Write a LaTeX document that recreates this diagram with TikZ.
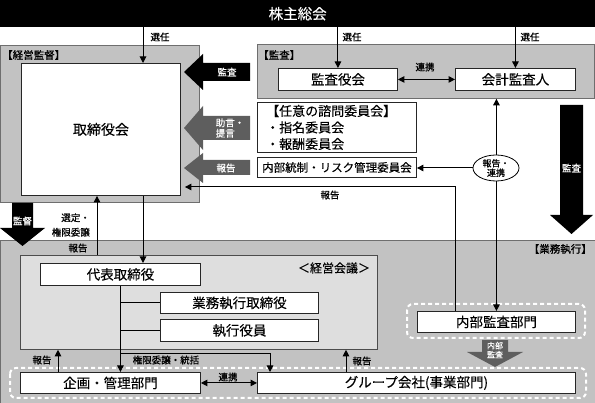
\documentclass[tikz,border=0pt]{standalone}
\usepackage{fontspec}
\setmainfont[FakeBold=0.25]{Noto Sans CJK JP}
\newfontfamily\lblfont[FakeBold=0.6]{Noto Sans CJK JP}
\usetikzlibrary{arrows.meta,shapes.geometric}
\definecolor{panelgray}{HTML}{C2C2C2}
\definecolor{innergray}{HTML}{DEDEDE}
\definecolor{arrowgray}{HTML}{5E5E5E}
\definecolor{edgegray}{HTML}{6E6E6E}
\begin{document}
\begin{tikzpicture}[x=1pt,y=-1pt,
  panel/.style={draw=edgegray, fill=panelgray, line width=0.8pt, inner sep=0pt, anchor=north west},
  box/.style={draw=black!85, fill=white, line width=0.9pt, inner sep=0pt, anchor=north west, font=\fontsize{13.5}{16}\selectfont},
  lbl/.style={font=\lblfont\fontsize{9.5}{11}\selectfont, inner sep=0pt},
  hdr/.style={font=\lblfont\fontsize{10.5}{12}\selectfont, inner sep=0pt},
  conn/.style={line width=1pt, -{Triangle[length=6.5pt,width=6.5pt]}},
  both/.style={line width=1pt, {Triangle[length=6.5pt,width=6.5pt]}-{Triangle[length=6.5pt,width=6.5pt]}},
  plain/.style={line width=1pt},
  dashbox/.style={draw=white, line width=2pt, dash pattern=on 4pt off 3pt, rounded corners=6pt},
  wtxt/.style={text=white, font=\lblfont\fontsize{9.5}{10.5}\selectfont, inner sep=0pt, align=center}
]
\useasboundingbox (0,0) rectangle (595,403);

% top bar
\node[anchor=north west, fill=black, minimum width=595pt, minimum height=27pt, inner sep=0pt,
      text=white, font=\fontsize{14.5}{16}\selectfont] (kabu) at (0,0) {株主総会};

% panels
\node[panel, minimum width=199pt, minimum height=157pt] (keieipanel) at (0,45) {};
\node[hdr, anchor=west] (hkeiei) at (2,55) {【経営監督】};
\node[panel, minimum width=337pt, minimum height=54pt] (kansapanel) at (257,44) {};
\node[hdr, anchor=west] (hkansa) at (258,55) {【監査】};
\node[panel, minimum width=595pt, minimum height=163pt] (gyomupanel) at (0,240) {};
\node[hdr, anchor=east] (hgyomu) at (592,249) {【業務執行】};
\node[panel, fill=innergray, draw=black!70, minimum width=357pt, minimum height=94pt] (kaigipanel) at (20,255) {};
\node[font=\fontsize{12}{14}\selectfont, inner sep=0pt] (hkaigi) at (334,268) {＜経営会議＞};

% boxes
\node[box, minimum width=159pt, minimum height=132pt, font=\fontsize{14}{16}\selectfont] (torishimari) at (21,63) {取締役会};
\node[box, minimum width=119pt, minimum height=22pt] (kansayaku) at (278,68) {監査役会};
\node[box, minimum width=120pt, minimum height=22pt] (kaikei) at (455,68) {会計監査人};
\node[box, minimum width=159pt, minimum height=50pt] (nini) at (257,102) {};
\node[anchor=west, align=left, font=\fontsize{13}{16.5}\selectfont, inner sep=0pt] (ninitext) at ([xshift=9pt]nini.west) {【任意の諮問委員会】\\・指名委員会\\・報酬委員会};
\node[box, minimum width=159pt, minimum height=20pt, font=\fontsize{11.5}{13}\selectfont] (naibutousei) at (257,157) {内部統制・リスク管理委員会};

\node[box, minimum width=160pt, minimum height=22pt] (daihyo) at (40,263) {代表取締役};
\node[box, minimum width=158pt, minimum height=21pt] (gyomu) at (160,292) {業務執行取締役};
\node[box, minimum width=158pt, minimum height=22pt] (shikko) at (160,319) {執行役員};

\draw[dashbox] (10,368) rectangle (586,398);
\draw[dashbox] (407,304) rectangle (585,338);
\node[box, minimum width=180pt, minimum height=21pt] (kikaku) at (20,372) {企画・管理部門};
\node[box, minimum width=318pt, minimum height=21pt] (group) at (257,372) {グループ会社(事業部門)};
\node[box, minimum width=158pt, minimum height=21pt] (naibukansa) at (417,311) {内部監査部門};

% block arrows
\fill[black] (184,72) -- (203,54) -- (203,63) -- (250,63) -- (250,81) -- (203,81) -- (203,90) -- cycle;
\node[wtxt] (tkansa1) at (227,72) {監査};
\fill[arrowgray] (184,128) -- (203,106) -- (203,116) -- (250,116) -- (250,140) -- (203,140) -- (203,150) -- cycle;
\node[wtxt, align=left] (tjogen) at (230,128) {助言・\\提言};
\fill[arrowgray] (184,168) -- (203,153) -- (203,160) -- (250,160) -- (250,175) -- (203,175) -- (203,183) -- cycle;
\node[wtxt] (thokoku1) at (226,168) {報告};
\fill[black] (12,203) -- (33,203) -- (33,228) -- (45,228) -- (22.5,246) -- (0,228) -- (12,228) -- cycle;
\node[wtxt] (tkantoku) at (22.5,221) {監督};
\fill[black] (560,105) -- (583,105) -- (583,215) -- (593,215) -- (571.5,234) -- (550,215) -- (560,215) -- cycle;
\node[wtxt] (tkansa2) at (571.5,168) {監査};
\fill[arrowgray] (482,340) -- (508,340) -- (508,352) -- (523,352) -- (495,367) -- (467,352) -- (482,352) -- cycle;
\node[wtxt, font=\lblfont\fontsize{8}{9}\selectfont] (tnaibu) at (495,350) {内部\\監査};

% helper coordinates
\coordinate (x143) at (143,0);
\coordinate (x97) at (97,0);
\coordinate (x455) at (455,0);
\coordinate (x58) at (58,0);
\coordinate (x346) at (346,0);
\coordinate (x270) at (270,0);
\coordinate (y187) at (0,187);
\coordinate (y354) at (0,354);
\coordinate (tipR) at ([xshift=4pt]torishimari.east);

% connectors
\draw[conn] (kabu.south -| x143) -- (torishimari.north -| x143);
\draw[conn] (kabu.south -| kansayaku.north) -- (kansayaku.north);
\draw[conn] (kabu.south -| kaikei.north) -- (kaikei.north);
\draw[both] (kansayaku.east) -- (kaikei.west);
\draw[both] (kansapanel.south -| naibukansa.north) -- (naibukansa.north);
\node[ellipse, draw, line width=0.8pt, fill=white, minimum width=46pt, minimum height=26pt, inner sep=0pt,
      align=center, font=\lblfont\fontsize{9}{9.5}\selectfont] (hr) at (496,168) {報告・\\連携};
\draw[conn] (hr.west) -- (hr.west -| naibutousei.east);
\draw[conn] (naibukansa.north -| x455) -- (x455 |- y187) -- (tipR |- y187);
\draw[conn] (torishimari.south -| x143) -- (daihyo.north -| x143);
\draw[conn] (kaigipanel.north -| x97) -- (torishimari.south -| x97);
\draw[conn] (daihyo.south) -- (daihyo.south |- kikaku.north);
\draw[plain] (daihyo.south |- gyomu.west) -- (gyomu.west);
\draw[plain] (daihyo.south |- shikko.west) -- (shikko.west);
\draw[conn] (daihyo.south |- y354) -- (x270 |- y354) -- (x270 |- group.north);
\draw[conn] (kikaku.north -| x58) -- (kaigipanel.south -| x58);
\draw[conn] (group.north -| x346) -- (kaigipanel.south -| x346);
\draw[both] (kikaku.east) -- (group.west);

% labels
\node[lbl] (l1) at (160,37) {選任};
\node[lbl] (l2) at (352,37) {選任};
\node[lbl] (l3) at (530,37) {選任};
\node[lbl] (l4) at (425,67) {連携};
\node[lbl, align=right, anchor=east, font=\lblfont\fontsize{9.5}{14.5}\selectfont] (l5) at (90,225) {選定・\\権限委譲};
\node[lbl] (l6) at (78,248) {報告};
\node[lbl] (l7) at (330,195) {報告};
\node[lbl] (l8) at (166,360) {権限委譲・統括};
\node[lbl] (l9) at (42,360) {報告};
\node[lbl] (l10) at (362,361) {報告};
\node[lbl] (l11) at (228,377) {連携};
\end{tikzpicture}
\end{document}
